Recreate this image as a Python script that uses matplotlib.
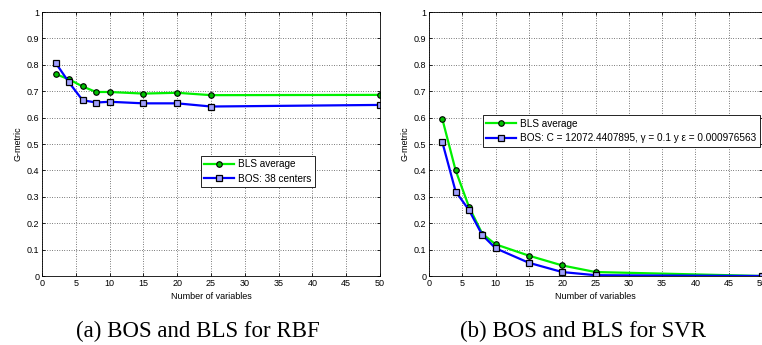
import matplotlib.pyplot as plt

plt.rcParams['font.family'] = ['Liberation Sans', 'DejaVu Sans']

# number of variables (shared x values)
n_vars = [2, 4, 6, 8, 10, 15, 20, 25, 50]

# (a) RBF
rbf_bls = [0.765, 0.745, 0.718, 0.697, 0.697, 0.691, 0.694, 0.685, 0.686]
rbf_bos = [0.808, 0.733, 0.666, 0.657, 0.660, 0.654, 0.654, 0.642, 0.648]

# (b) SVR
svr_bls = [0.595, 0.400, 0.262, 0.160, 0.120, 0.077, 0.040, 0.015, 0.0]
svr_bos = [0.507, 0.320, 0.250, 0.155, 0.105, 0.050, 0.015, 0.003, 0.0]

labels_a = ['BLS average', 'BOS: 38 centers']
labels_b = ['BLS average', 'BOS: C = 12072.4407895, \u03b3 = 0.1 y \u03b5 = 0.000976563']
captions = ['(a) BOS and BLS for RBF', '(b) BOS and BLS for SVR']

fig = plt.figure(figsize=(7.62, 3.45), dpi=100)
ax1 = fig.add_axes([42 / 762, 1 - 276 / 345, 338 / 762, 264 / 345])
ax2 = fig.add_axes([429 / 762, 1 - 276 / 345, 333 / 762, 264 / 345])


def draw(ax, bls, bos, labels, legend_corner):
    ax.plot(n_vars, bls, color='#00f000', lw=1.6, marker='o', ms=4,
            mfc='#00c000', mec='black', mew=0.8, label=labels[0])
    ax.plot(n_vars, bos, color='#0000ff', lw=1.6, marker='s', ms=5,
            mfc='#a0a0ff', mec='black', mew=0.9, label=labels[1])
    ax.set_xlim(0, 50)
    ax.set_ylim(0, 1)
    ax.set_xticks(range(0, 51, 5))
    ax.set_yticks([i / 10 for i in range(11)])
    ax.set_yticklabels(['0', '0.1', '0.2', '0.3', '0.4', '0.5', '0.6',
                        '0.7', '0.8', '0.9', '1'])
    ax.grid(True, color='black', ls=(0, (1, 2.5)), lw=0.5)
    ax.tick_params(direction='in', labelsize=6.5, length=2.5, width=0.6,
                   top=True, right=True, pad=2)
    for s in ax.spines.values():
        s.set_linewidth(0.6)
    ax.set_xlabel('Number of variables', fontsize=6.5, labelpad=3)
    ax.set_ylabel('G-metric', fontsize=6.5, labelpad=3)
    leg = ax.legend(loc='lower left', bbox_to_anchor=legend_corner,
                    borderaxespad=0, fontsize=7.2, fancybox=False,
                    framealpha=1, edgecolor='black', borderpad=0.35,
                    handlelength=3.0, handletextpad=0.4, labelspacing=0.45)
    leg.get_frame().set_linewidth(0.6)


draw(ax1, rbf_bls, rbf_bos, labels_a, (0.47, 0.337))
draw(ax2, svr_bls, svr_bos, labels_b, (0.162, 0.49))

fig.text(198 / 762, 1 - 331 / 345, captions[0], ha='center', va='center',
         family='Liberation Serif', fontsize=16.5)
fig.text(583 / 762, 1 - 331 / 345, captions[1], ha='center', va='center',
         family='Liberation Serif', fontsize=16.5)

fig.savefig('out.png', dpi=100)
